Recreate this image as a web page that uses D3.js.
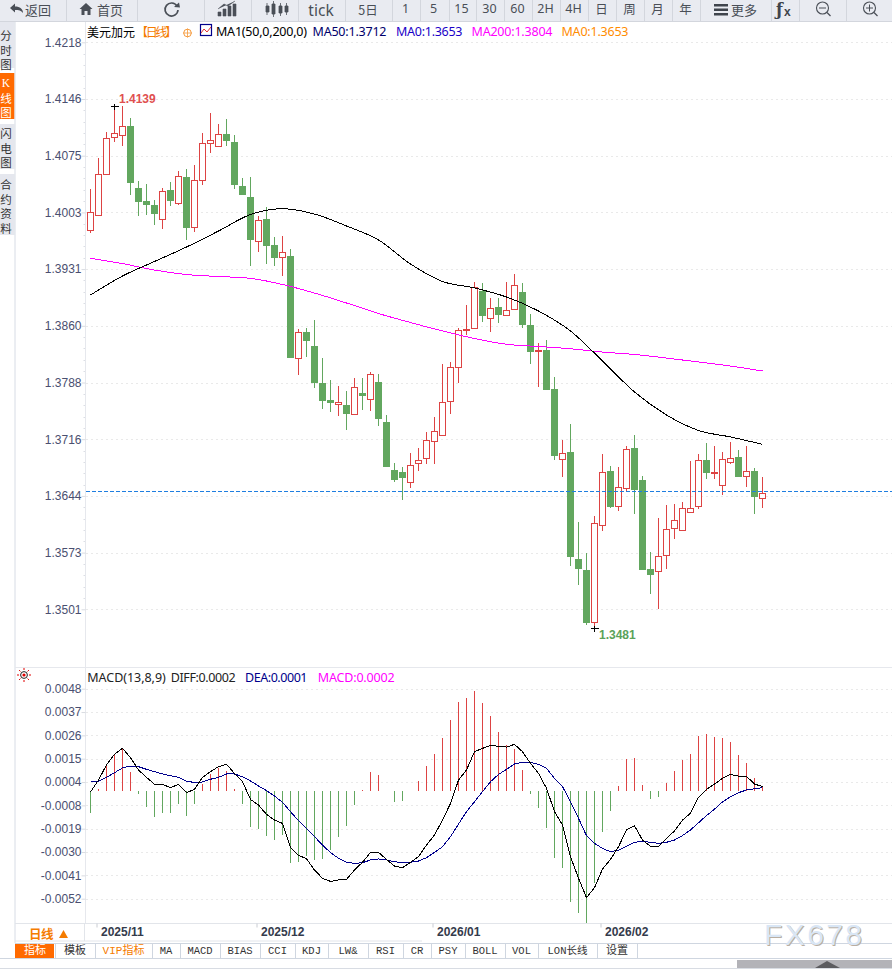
<!DOCTYPE html>
<html><head><meta charset="utf-8">
<script src="https://cdn.jsdelivr.net/npm/d3@7/dist/d3.min.js"></script>
<style>html,body{margin:0;padding:0;background:#fff;overflow:hidden}svg{display:block}</style>
</head><body><svg id="c" width="892" height="969"></svg>
<script>
// ---------- data ----------
const open = [1.39824,1.40014,1.40532,1.41000,1.41025,1.41131,1.40347,1.40182,1.40132,1.39963,1.40321,1.40166,1.40486,1.39862,1.40456,1.40924,1.40886,1.41030,1.40928,1.40372,1.40233,1.39685,1.39955,1.39626,1.39483,
1.39487,1.38205,1.38534,1.38357,1.37889,1.37666,1.37620,1.37611,1.37493,1.37754,1.37687,1.37902,1.37396,1.36789,1.36755,1.36633,1.36878,1.36941,1.37156,1.37232,1.37662,1.38092,1.38559,
1.38585,1.39048,1.38707,1.38842,1.38749,1.38821,1.39031,1.38614,1.38285,1.38298,1.37805,1.36928,1.37008,1.35655,1.35516,1.34863,
1.36094,1.36768,1.36334,1.36562,1.37059,1.36654,1.35529,1.35512,1.35714,1.36056,1.36030,1.36258,1.36330,1.36907,1.36747,1.36599,1.36890,1.36945,1.36713,1.36768,1.36435];
const close = [1.40052,1.40532,1.40987,1.41051,1.41139,1.40427,1.40187,1.40144,1.40035,1.40317,1.40199,1.40507,1.39858,1.40456,1.40924,1.40958,1.41038,1.40958,1.40402,1.40275,1.39706,1.39951,1.39630,1.39478,1.39546,
1.38214,1.38534,1.38429,1.37898,1.37670,1.37645,1.37649,1.37506,1.37839,1.37733,1.38003,1.37442,1.36835,1.36667,1.36692,1.36852,1.36916,1.37169,1.37282,1.37649,1.38092,1.38559,1.38572,
1.39103,1.38745,1.38837,1.38757,1.38812,1.39128,1.38631,1.38290,1.38298,1.37809,1.36974,1.37004,1.35697,1.35546,1.34863,1.36119,
1.36764,1.36330,1.36574,1.37055,1.36540,1.35533,1.35470,1.35702,1.36043,1.36157,1.36309,1.36309,1.36916,1.36760,1.36764,1.36928,1.36941,1.36709,1.36777,1.36456,1.36498];
const high = [1.40334,1.40735,1.41063,1.41388,1.41384,1.41240,1.40444,1.40397,1.40195,1.40355,1.40431,1.40562,1.40595,1.40638,1.41051,1.41295,1.41164,1.41228,1.41025,1.40482,1.40494,1.39993,1.40111,1.39727,1.39748,
1.39584,1.38572,1.38585,1.38686,1.38205,1.37927,1.37851,1.37788,1.37953,1.37944,1.38028,1.38003,1.37485,1.36878,1.36827,1.36996,1.37067,1.37261,1.37451,1.38130,1.38146,1.38585,1.38867,
1.39166,1.39154,1.38964,1.38955,1.39166,1.39259,1.39154,1.38762,1.38395,1.38424,1.37965,1.37168,1.37371,1.36131,1.35739,1.36207,
1.36991,1.36840,1.36819,1.37093,1.37223,1.36713,1.35744,1.36174,1.36338,1.36351,1.36376,1.36903,1.36983,1.37131,1.37093,1.37017,1.37143,1.37042,1.37093,1.36814,1.36701];
const low = [1.39782,1.39997,1.40520,1.40933,1.40882,1.40258,1.39993,1.40014,1.39879,1.39833,1.40119,1.40136,1.39693,1.39790,1.40385,1.40789,1.40882,1.40878,1.40334,1.40262,1.39360,1.39537,1.39394,1.39360,1.39234,
1.38201,1.37986,1.38214,1.37822,1.37556,1.37518,1.37468,1.37291,1.37476,1.37544,1.37531,1.37341,1.36831,1.36633,1.36406,1.36557,1.36772,1.36861,1.36861,1.37232,1.37493,1.37885,1.38488,
1.38580,1.38652,1.38530,1.38644,1.38732,1.38808,1.38580,1.38125,1.37834,1.37809,1.36911,1.36696,1.35571,1.35326,1.34825,1.34791,
1.36014,1.36304,1.36267,1.36515,1.36229,1.35516,1.35217,1.35023,1.35533,1.35913,1.36014,1.36254,1.36288,1.36671,1.36671,1.36469,1.36861,1.36709,1.36570,1.36229,1.36304];
const maIndex = [0,4,8,12,16,20,24,28,32,36,40,44,48,52,56,60,64,68,72,76,80,84];
const ma50 = [1.38997,1.39237,1.39421,1.39604,1.39806,1.40015,1.40088,1.40021,1.3987,1.39693,1.39389,1.39168,1.39086,1.38972,1.38795,1.38542,1.38163,1.37771,1.3748,1.37284,1.37202,1.37109];
const ma200 = [1.39461,1.39394,1.39313,1.39256,1.39231,1.39208,1.3913,1.39022,1.38896,1.38763,1.38649,1.38542,1.38447,1.38374,1.38346,1.38317,1.38276,1.38245,1.382,1.3815,1.38099,1.38036];
const lastPrice = 1.3652;
const hist = [-.00105,.00006,.00117,.00173,.00196,.00088,-.00016,-.00076,-.00124,-.00105,-.00105,-.00062,-.00119,-.00062,.00031,.00079,.00108,.00092,.00008,-.00062,-.00172,-.00181,-.00214,-.00233,-.0021,-.00343,-.00338,
-.0031,-.00329,-.00324,-.00281,-.00219,-.00167,-.00067,.00003,.00088,.00074,-.00003,-.00053,-.00048,-.00003,.00046,.00117,.00176,.0025,.00336,.00421,.00441,.00474,.00417,.00355,.00279,.00217,.00198,.00098,-.00016,-.00083,-.00178,-.00321,-.00368,-.00528,-.00581,-.00628,
-.00438,-.00195,-.00095,.00022,.0015,.00155,.00027,-.00038,-.00029,.00036,.00093,.00146,.00174,.0026,.00269,.00255,.0025,.00231,.00169,.00131,.0006,.00022];
const diff = [-.00007,.0005,.00122,.00173,.00201,.00157,.00098,.00063,.0003,.0003,.00014,.0003,-.0001,.00006,.00063,.0009,.00114,.00125,.00082,.00042,-.00042,-.00069,-.00113,-.0014,-.00156,-.0027,-.00308,
-.00324,-.00378,-.00417,-.00432,-.00425,-.00422,-.00378,-.00341,-.00294,-.00294,-.00327,-.00359,-.00367,-.00341,-.00314,-.00259,-.00211,-.0014,-.00061,.0005,.00098,.00185,.00201,.00215,.00211,.00207,.0022,.00185,.0013,.00082,.00011,-.001,-.00164,-.00314,-.00417,-.00509,
-.00462,-.00373,-.00327,-.00267,-.00187,-.00168,-.00235,-.00265,-.00265,-.00227,-.00192,-.0014,-.00108,-.00032,.00006,.00031,.00058,.00077,.00069,.00068,.00031,.00019];
const dea = [.00044,.00044,.00063,.00085,.00108,.00117,.00114,.00101,.0009,.00079,.00071,.00063,.00044,.00039,.00041,.00054,.00063,.00079,.00079,.00066,.00046,.00022,0,-.00026,-.00056,-.001,-.00143,
-.0018,-.00219,-.00259,-.00295,-.00322,-.00341,-.00346,-.00343,-.0033,-.00325,-.0033,-.00338,-.00343,-.00341,-.00335,-.00319,-.00294,-.00267,-.00219,-.00159,-.001,-.00053,-.00005,.00042,.00077,.00101,.00127,.00134,.00134,.00125,.00106,.00058,.00019,-.00053,-.00132,-.00214,
-.00251,-.00275,-.00291,-.00283,-.00264,-.00246,-.00241,-.00246,-.00251,-.00246,-.00235,-.00214,-.00187,-.00153,-.00119,-.00088,-.00054,-.00029,-.0001,.00003,.00009,.00014];
const priceTicks = [1.4218,1.41463,1.40746,1.40029,1.39312,1.38595,1.37878,1.37161,1.36444,1.35727,1.3501];
const priceTickLabels = ["1.4218","1.4146","1.4075","1.4003","1.3931","1.3860","1.3788","1.3716","1.3644","1.3573","1.3501"];
const macdTicks = [.0048,.00369,.00258,.00147,.00036,-.00075,-.00186,-.00297,-.00408,-.00519];
const macdTickLabels = ["0.0048","0.0037","0.0026","0.0015","0.0004","-0.0008","-0.0019","-0.0030","-0.0041","-0.0052"];
const monthIndex = [1,21,43,64];
const monthLabels = ["2025/11","2025/12","2026/01","2026/02"];
const periodLabels = [["1",405],["5",433],["15",461],["30",489],["60",517],["2H",545],["4H",573],["日",601],["周",629],["月",657],["年",685]];
const tabs = [["指标",15,55],["模板",55,95],["VIP指标",95,152],["MA",152,180],["MACD",180,220],["BIAS",220,260],["CCI",260,295],["KDJ",295,328],["LW&",328,368],["RSI",368,403],["CR",403,431],["PSY",431,465],["BOLL",465,505],["VOL",505,538],["LON长线",538,597],["设置",597,637]];

// ---------- scales ----------
const RED="#dd4343", GREEN="#62a75f", CJK="'Noto Sans CJK SC','Noto Sans',sans-serif", SANS="'Liberation Sans',Arial,sans-serif";
const svg = d3.select("#c");
const x = d3.scaleLinear().domain([0,84]).range([90.5,762.5]);
const y = d3.scaleLinear().domain([1.3501,1.4218]).range([610.3,43.3]);
const ym = d3.scaleLinear().domain([-.00519,.0048]).range([899.7,689.7]);
const rnd = v => Math.round(v)+.5;

function txt(g,px,py,s,o={}){
  const t=g.append("text").attr("x",px).attr("y",py).text(s)
    .attr("font-family",o.font||CJK).attr("font-size",o.size||12).attr("fill",o.fill||"#000")
    .attr("dominant-baseline","central").attr("text-anchor",o.anchor||"start");
  if(o.weight)t.attr("font-weight",o.weight);
  if(o.len)t.attr("textLength",o.len).attr("lengthAdjust","spacing");
  return t;
}
const hline=(g,x1,x2,yy,c,dash)=>g.append("line").attr("x1",x1).attr("x2",x2).attr("y1",yy).attr("y2",yy).attr("stroke",c).attr("stroke-dasharray",dash||null);
const vline=(g,xx,y1,y2,c)=>g.append("line").attr("x1",xx).attr("x2",xx).attr("y1",y1).attr("y2",y2).attr("stroke",c);

// ---------- chrome ----------
const chrome = svg.append("g").attr("id","chrome");
chrome.append("rect").attr("width",892).attr("height",21.5).attr("fill","#e9ebf1");
hline(chrome,0,892,21.5,"#d3d6dd");
[66,137,204,251,298,345,392,420,449,476,504,532,560,588,616,644,672,700,771,799,846].forEach(s=>vline(chrome,s+.5,0,21,"#d3d6dd"));
const TB="#4a4f57";
txt(chrome,25,9.5,"返回",{size:13,fill:TB,len:26});
chrome.append("path").attr("d","M10 8 L15 3.5 V6.5 C20 6.5 23 9 23 13 C21 10.5 19 10 15 10 V12.5 Z").attr("fill",TB);
txt(chrome,97,9.5,"首页",{size:13,fill:TB,len:26});
chrome.append("path").attr("d","M86 3 L92.5 9 H90.5 V15 H87.5 V11 H84.5 V15 H81.5 V9 H79.5 Z").attr("fill",TB);
chrome.append("path").attr("d","M177 6 A6.5 6.5 0 1 0 178 10").attr("fill","none").attr("stroke",TB).attr("stroke-width",1.7);
chrome.append("path").attr("d","M174 7 L180 7.5 L179 2.5 Z").attr("fill",TB);
chrome.append("path").attr("d","M218 16 V12 H221 V16 Z M223 16 V9 H226 V16 Z M228 16 V6 H231 V16 Z M233 16 V4 H236 V16 Z M218 9 L224 4 L228 6 L235 1").attr("fill",TB).attr("stroke",TB).attr("stroke-width",.6);
chrome.append("path").attr("d","M266 6 H269 V12 H266 Z M267 3 V15 M272 4 H275 V14 H272 Z M273.5 1 V17 M279 6 H282 V13 H279 Z M280.5 3 V16 M285 6 H288 V12 H285 Z M286.5 3 V15").attr("fill",TB).attr("stroke",TB).attr("stroke-width",.8);
txt(chrome,321,9.5,"tick",{size:15.5,fill:TB,anchor:"middle",font:"'Noto Sans',sans-serif"});
txt(chrome,368,9,"5日",{size:12.5,fill:TB,anchor:"middle"});
periodLabels.forEach(([s,px])=>txt(chrome,px+.5,8.5,s,{size:12.5,fill:TB,anchor:"middle",font:/[0-9H]/.test(s)?"'Noto Sans',sans-serif":CJK}));
chrome.append("path").attr("d","M714 4 H728 V6.5 H714 Z M714 8.5 H728 V11 H714 Z M714 13 H728 V15.5 H714 Z").attr("fill","#3f444c");
txt(chrome,731,9,"更多",{size:13,fill:TB,len:26});
txt(chrome,776,9,"ƒ",{size:16,fill:"#3f444c",weight:"bold",font:"'DejaVu Serif',serif"});
txt(chrome,784,12,"x",{size:12,fill:"#3f444c",weight:"bold",font:SANS});
[[823,"M819.5 8 H826.5"],[870,"M866.5 8 H873.5 M870 4.5 V11.5"]].forEach(([cx,p])=>{
  chrome.append("circle").attr("cx",cx-.5).attr("cy",8).attr("r",6).attr("fill","none").attr("stroke",TB).attr("stroke-width",1.1);
  chrome.append("path").attr("d",`M${cx+4} 12.5 L${cx+7.5} 16`).attr("stroke",TB).attr("stroke-width",1.2);
  chrome.append("path").attr("d",p).attr("stroke",TB).attr("stroke-width",1).attr("transform","translate(-0.5,0)");
});
// sidebar
[[22,68,"#e5e7ee",["分","时","图"],"#333",35],[73,119,"#ff6a00",["K","线","图"],"#fff",83],[124,169,"#e5e7ee",["闪","电","图"],"#333",133],[174,235,"#e5e7ee",["合","约","资","料"],"#333",184]].forEach(([a,b,bg,cs,col,first])=>{
  chrome.append("rect").attr("x",0).attr("y",a).attr("width",14.5).attr("height",b-a).attr("fill",bg);
  cs.forEach((c,i)=>txt(chrome,6,first+i*14.5,c,{size:11.5,fill:col,anchor:"middle",font:c==="K"?"'Liberation Serif',serif":CJK}));
});
vline(chrome,15,22,943,"#d7dce5");
hline(chrome,15,892,667.5,"#e6e8ed");
hline(chrome,15,892,923.5,"#e2e5ea");
hline(chrome,15,422,941,"#e2e5ea");
hline(chrome,15,892,943.5,"#cfd6e0");
hline(chrome,0,892,958.5,"#cfd6e0");
hline(chrome,0,892,968.5,"#d8dce3");
vline(chrome,84.5,924,941,"#e2e5ea");
txt(chrome,29,933.5,"日线",{size:12.5,fill:"#f57c00",weight:"bold",len:24.5});
chrome.append("path").attr("d","M63.5 930 L68 938 H59 Z").attr("fill","#f57c00");
// tabs
tabs.forEach(([s,a,b],i)=>{
  if(i===0) chrome.append("rect").attr("x",a).attr("y",944).attr("width",b-a-1).attr("height",14).attr("fill","#ff6a00");
  vline(chrome,b+.5,944,958,"#cfd6e0");
  txt(chrome,(a+b)/2,951,s,{size:i<3||s==="设置"?11:10.5,anchor:"middle",fill:i===0?"#fff":i===2?"#f57c00":"#333",font:"'Liberation Mono','Noto Sans CJK SC',monospace"});
});
// scroll bar
chrome.append("rect").attr("x",737).attr("y",960).attr("width",155).attr("height",8).attr("fill","#b3b3b8");
chrome.append("path").attr("d","M815 968 L827 961 L840 968 Z").attr("fill","#5c5c60");

// ---------- grids + axes ----------
const plot = svg.append("g").attr("id","plot");
const grid = plot.append("g");
priceTicks.forEach(t=>hline(grid,86,892,rnd(y(t))-1,"#e9e9e9","2 3"));
macdTicks.forEach(t=>hline(grid,86,892,rnd(ym(t))-1,"#e9e9e9","2 3"));

function styleAxis(g){
  g.selectAll("text").attr("font-family",SANS).attr("font-size",12).attr("fill","#4a4f70").attr("transform","translate(0,-1)");
  g.selectAll("line").attr("stroke","#d9dce2").attr("transform","translate(0,-1)");
  g.select(".domain").attr("stroke","#e6e8ed");
}
const axL = plot.append("g").attr("transform","translate(85.5,0)")
  .call(d3.axisLeft(y).tickValues(priceTicks).tickSize(4).tickPadding(0).tickFormat((d,i)=>priceTickLabels[i]));
styleAxis(axL);
axL.select(".domain").attr("d","M0 22V667");
const axM = plot.append("g").attr("transform","translate(85.5,0)")
  .call(d3.axisLeft(ym).tickValues(macdTicks).tickSize(4).tickPadding(0).tickFormat((d,i)=>macdTickLabels[i]));
styleAxis(axM);
axM.select(".domain").attr("d","M0 668V923");
// minor ticks
const minor = plot.append("g");
d3.range(10).forEach(i=>d3.range(1,5).forEach(j=>{
  const m=priceTicks[i]+(priceTicks[i+1]-priceTicks[i])*j/5;
  hline(minor,83.5,85,rnd(y(m))-1,"#dcdfe5");
}));
const axT = plot.append("g").attr("transform","translate(0,923.5)")
  .call(d3.axisBottom(x).tickValues(monthIndex).tickSize(4).tickPadding(2).tickFormat((d,i)=>monthLabels[i]));
axT.select(".domain").remove();
axT.selectAll("line").attr("stroke","#c9ccd3").attr("transform","translate(-2,0)");
axT.selectAll("text").attr("text-anchor","start").attr("dx",2).attr("y",0).attr("dy",0)
  .attr("dominant-baseline","central").attr("transform","translate(0,8.3)")
  .attr("font-family",SANS).attr("font-size",12).attr("font-weight","bold").attr("fill","#343b4c");

// ---------- candles ----------
const candles = d3.range(open.length).map(i=>({i,o:open[i],c:close[i],h:high[i],l:low[i],up:close[i]>=open[i]}));
const cg = plot.append("g").attr("shape-rendering","crispEdges");
const cs = cg.selectAll("g").data(candles).join("g");
cs.append("line").attr("x1",d=>x(d.i)).attr("x2",d=>x(d.i)).attr("y1",d=>y(d.h)).attr("y2",d=>y(d.l))
  .attr("stroke",d=>d.up?RED:GREEN);
cs.append("rect").attr("x",d=>x(d.i)-3).attr("width",6)
  .attr("y",d=>rnd(y(Math.max(d.o,d.c))))
  .attr("height",d=>Math.max(1,rnd(y(Math.min(d.o,d.c)))-rnd(y(Math.max(d.o,d.c)))))
  .attr("fill",d=>d.up?"#fff":GREEN).attr("stroke",d=>d.up?RED:GREEN);

// last-price line
hline(plot,86,892,rnd(y(lastPrice)),"#1e7ee0","4 2").attr("shape-rendering","crispEdges");

// moving averages
const maLine = vals => d3.line().x((d,i)=>x(maIndex[i])).y(d=>y(d)).curve(d3.curveMonotoneX)(vals);
plot.append("path").attr("d",maLine(ma200)).attr("fill","none").attr("stroke","#ff00ff").attr("stroke-width",1).attr("shape-rendering","crispEdges");
plot.append("path").attr("d",maLine(ma50)).attr("fill","none").attr("stroke","#000").attr("stroke-width",1).attr("shape-rendering","crispEdges");

// high / low marks
const hiI=d3.maxIndex(high), loI=d3.minIndex(low);
[[hiI,high[hiI]],[loI,low[loI]]].forEach(([i,v])=>{
  const px=x(i), py=rnd(y(v));
  plot.append("path").attr("d",`M${px-4} ${py}H${px+4}M${px} ${py-3}V${py+3}`).attr("stroke","#000").attr("shape-rendering","crispEdges");
});
txt(plot,x(hiI)+4.5,98.5,"1.4139",{font:SANS,weight:"bold",fill:"#e05050"});
txt(plot,x(loI)+4.5,634.5,"1.3481",{font:SANS,weight:"bold",fill:"#5aa25a"});

// ---------- MACD ----------
const mg = plot.append("g").attr("shape-rendering","crispEdges");
mg.selectAll("line").data(hist).join("line")
  .attr("x1",(d,i)=>x(i)).attr("x2",(d,i)=>x(i))
  .attr("y1",()=>ym(0)).attr("y2",d=>ym(d))
  .attr("stroke",d=>d>=0?RED:GREEN);
const mLine = d3.line().x((d,i)=>x(i)).y(d=>ym(d));
plot.append("path").attr("d",mLine(dea)).attr("fill","none").attr("stroke","#00008b").attr("stroke-width",1).attr("shape-rendering","crispEdges");
plot.append("path").attr("d",mLine(diff)).attr("fill","none").attr("stroke","#000").attr("stroke-width",1).attr("shape-rendering","crispEdges");

// ---------- headers ----------
const head = svg.append("g");
txt(head,87,31,"美元加元",{size:12,len:48});
txt(head,136,31,"【日线】",{size:12,fill:"#f57c00",len:41});
head.append("circle").attr("cx",187.5).attr("cy",33).attr("r",3.8).attr("fill","none").attr("stroke","#f59a3c");
head.append("path").attr("d","M183 33H192M187.5 28.5V37.5").attr("stroke","#f59a3c").attr("stroke-width",.8);
head.append("rect").attr("x",200.5).attr("y",24.5).attr("width",11).attr("height",11).attr("fill","#fff").attr("stroke","#00008b").attr("stroke-width",1.2);
head.append("path").attr("d","M201 33L204 29L207 32L211 27").attr("fill","none").attr("stroke","#e03030").attr("stroke-width",1);
const HF="'Noto Sans',sans-serif";
txt(head,216,31.5,"MA1(50,0,200,0)",{font:HF,size:12.5,len:91});
txt(head,312.5,31.5,"MA50:1.3712",{font:HF,size:12.5,fill:"#00006b",len:74});
txt(head,396,31.5,"MA0:1.3653",{font:HF,size:12.5,fill:"#1a00c8",len:66.5});
txt(head,471.5,31.5,"MA200:1.3804",{font:HF,size:12.5,fill:"#ff00ff",len:81});
txt(head,561.5,31.5,"MA0:1.3653",{font:HF,size:12.5,fill:"#ff8c00",len:67});
txt(head,87.3,677.5,"MACD(13,8,9)",{font:HF,size:12.5,fill:"#222",len:78.5});
txt(head,170.7,677.5,"DIFF:0.0002",{font:HF,size:12.5,fill:"#222",len:65});
txt(head,245,677.5,"DEA:0.0001",{font:HF,size:12.5,fill:"#00008b",len:62.5});
txt(head,317.7,677.5,"MACD:0.0002",{font:HF,size:12.5,fill:"#ff00ff",len:77});
// sun icon
const sun=head.append("g").attr("transform","translate(24,675)");
sun.append("circle").attr("r",3.4).attr("fill","#fff").attr("stroke","#222");
sun.append("circle").attr("r",1.6).attr("fill","#e00000");
d3.range(8).forEach(i=>{const a=i*Math.PI/4;sun.append("line").attr("x1",5*Math.cos(a)).attr("y1",5*Math.sin(a)).attr("x2",7*Math.cos(a)).attr("y2",7*Math.sin(a)).attr("stroke","#e00000");});

// watermark
txt(svg,764,934,"FX678",{font:SANS,size:30,fill:"#d9e6f5"}).attr("textLength",98).attr("lengthAdjust","spacing").attr("style","text-shadow:1px 1px 0 #b9aea2");
</script></body></html>
